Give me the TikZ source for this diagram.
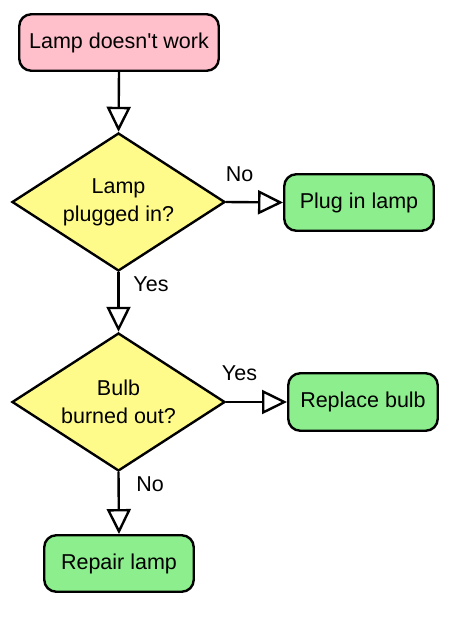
\documentclass[tikz,border=0pt]{standalone}
\usepackage{fontspec}
\setmainfont{Liberation Sans}[Ligatures=TeXOff]
\usetikzlibrary{shapes.geometric,arrows.meta}
\definecolor{startpink}{HTML}{FFC0CB}
\definecolor{decyellow}{HTML}{FFFB8A}
\definecolor{endgreen}{HTML}{8CEE8C}
\begin{document}
\begin{tikzpicture}[x=1pt,y=-1pt,
  every node/.style={font=\fontsize{21.5}{28}\selectfont},
  termbox/.style={draw, line width=2.4pt, rounded corners=12pt, inner sep=0pt, minimum height=56.5pt},
  decbox/.style={draw, line width=2.4pt, diamond, aspect=1.54, fill=decyellow, inner sep=0pt, minimum width=213pt, minimum height=138pt, align=center},
  flow/.style={line width=2.4pt, -{Triangle[length=25pt,width=24pt,fill=white]}},
  lbl/.style={inner sep=0pt}]
\useasboundingbox (0,0) rectangle (466,632);
\node[termbox, fill=startpink, minimum width=199.5pt] (start) at (119,42.5) {Lamp doesn't work};
\node[decbox] (d1) at (118.5,202) {Lamp\\plugged in?};
\node[termbox, fill=endgreen, minimum width=149.5pt] (plug) at (359,202.5) {Plug in lamp};
\node[decbox] (d2) at (118.5,402) {Bulb\\burned out?};
\node[termbox, fill=endgreen, minimum width=149.5pt, minimum height=57.5pt] (repl) at (363,402) {Replace bulb};
\node[termbox, fill=endgreen, minimum width=149.5pt] (repair) at (119,563.5) {Repair lamp};
\node[lbl] (l1) at (239.5,174.3) {No};
\node[lbl] (l2) at (151,284.3) {Yes};
\node[lbl] (l3) at (239.5,373.3) {Yes};
\node[lbl] (l4) at (150,484.2) {No};
\draw[flow] (start.south) -- (d1.north);
\draw[flow] (d1.east) -- (plug.west);
\draw[flow] (d1.south) -- (d2.north);
\draw[flow] (d2.east) -- (repl.west);
\draw[flow] (d2.south) -- (repair.north);
\end{tikzpicture}
\end{document}
